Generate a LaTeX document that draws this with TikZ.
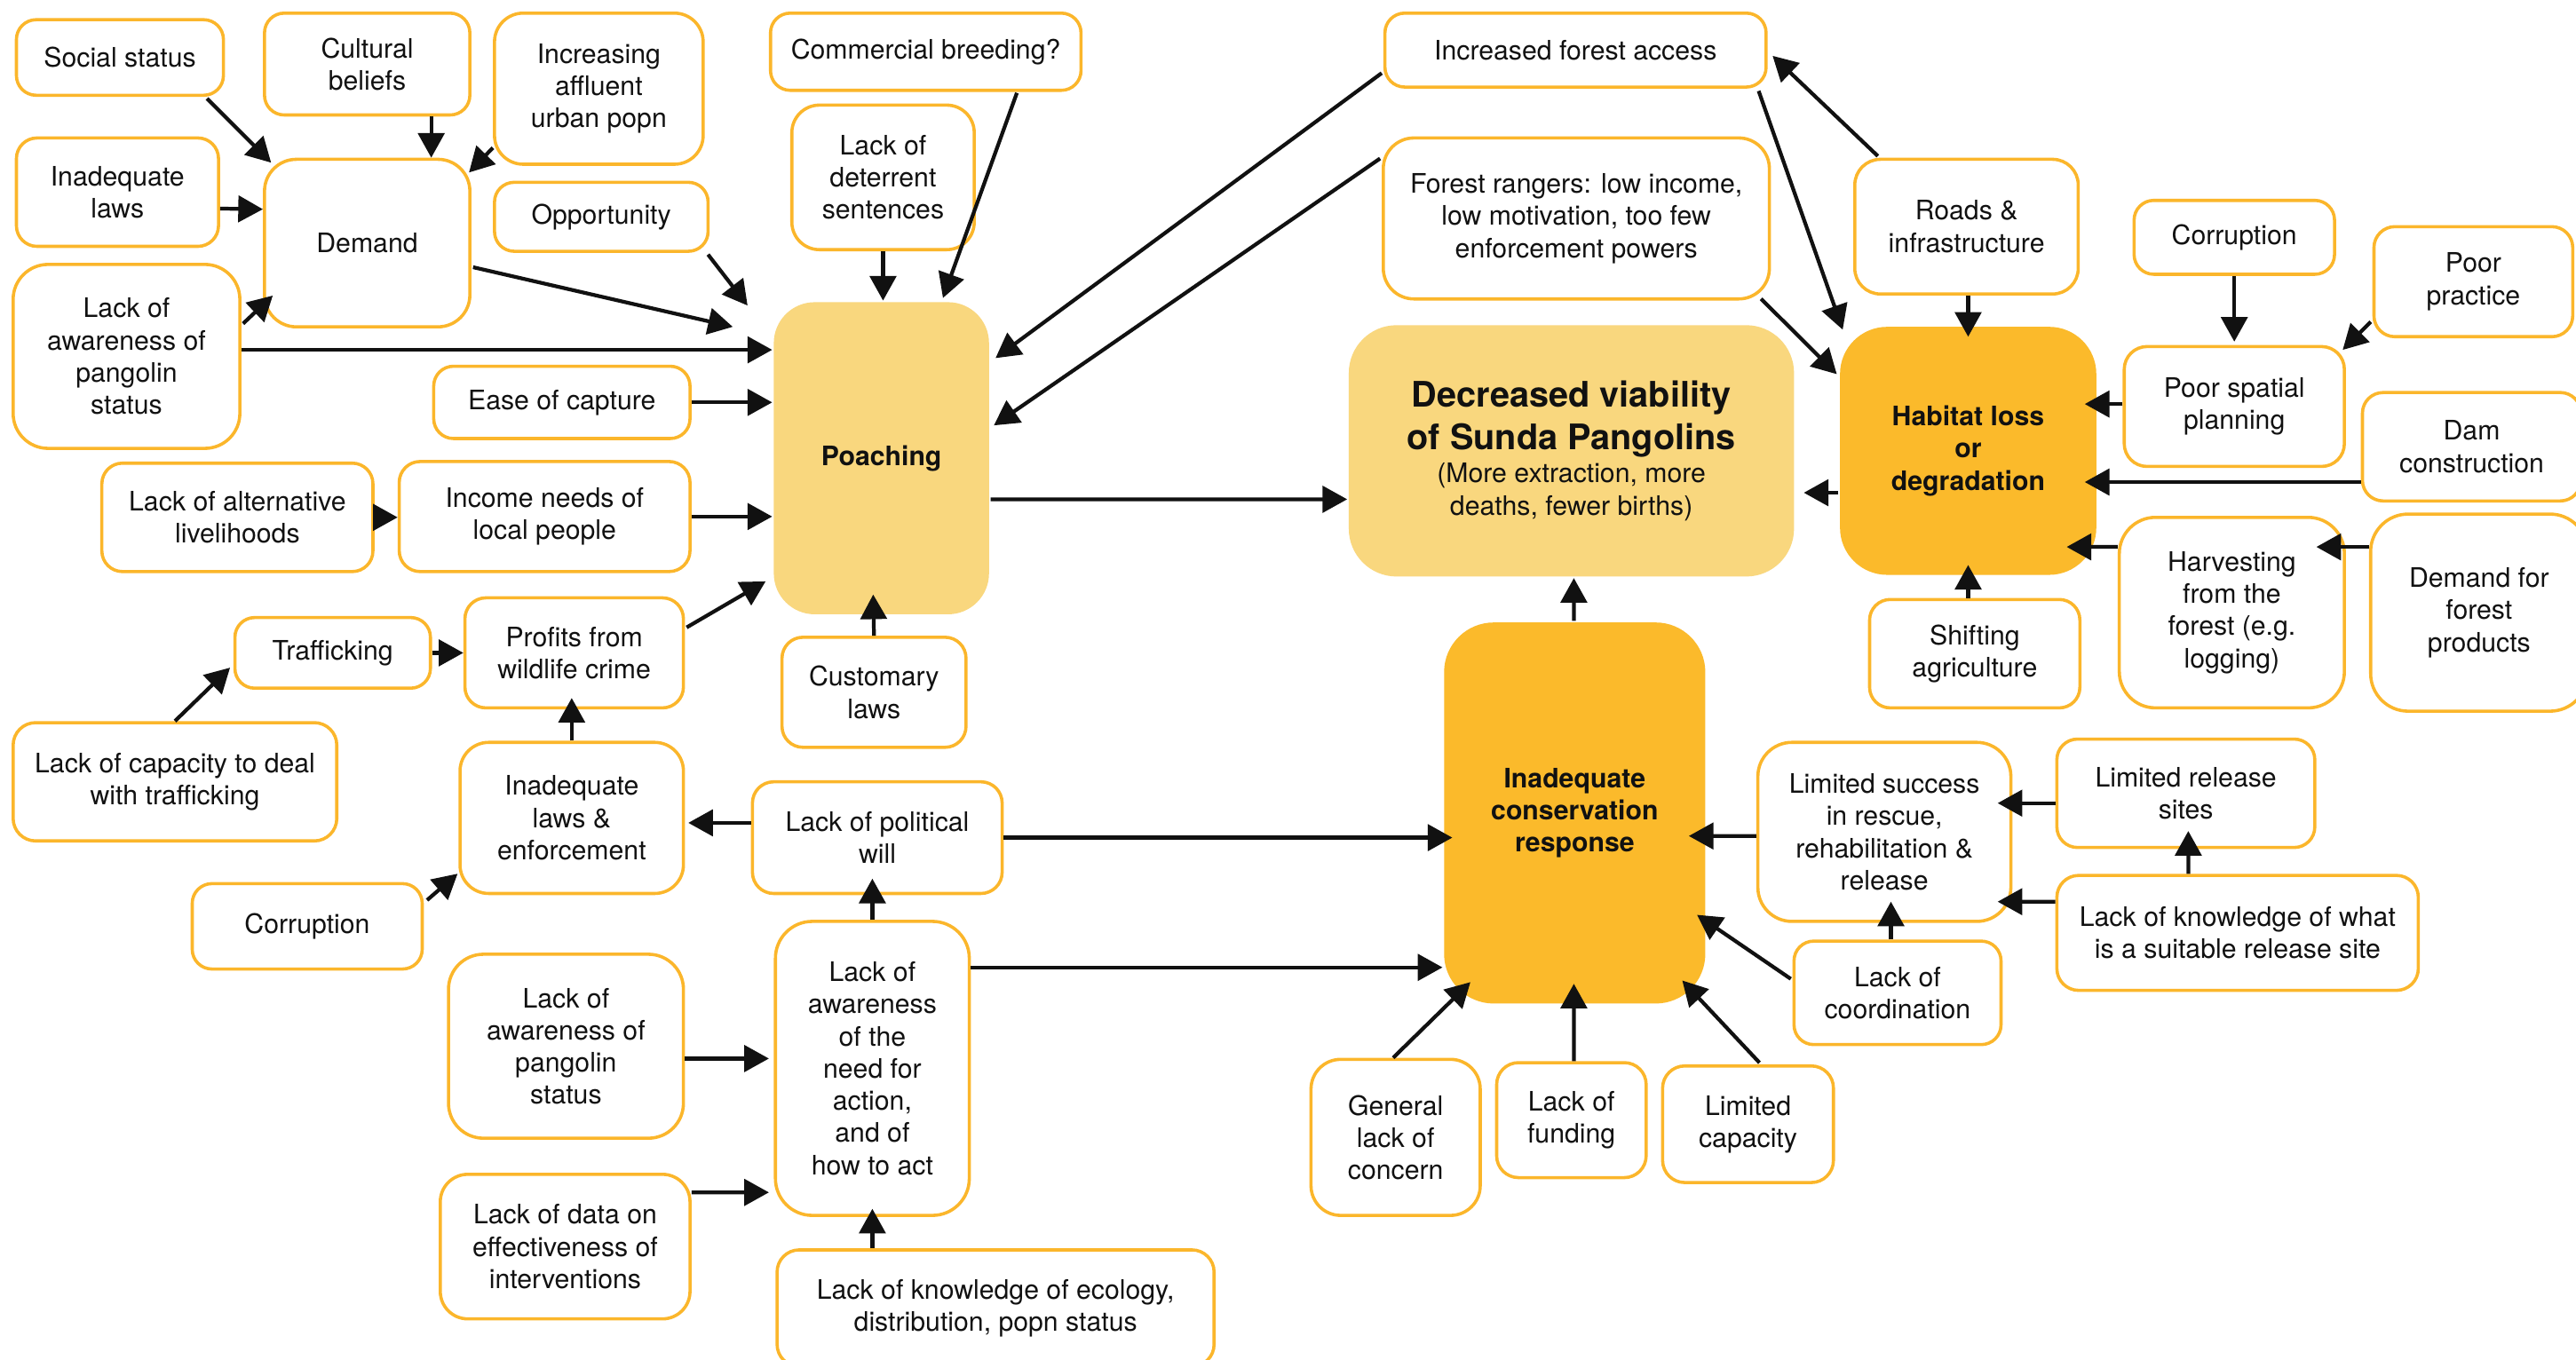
\documentclass[tikz,border=0pt]{standalone}
\usepackage{fontspec}
\setmainfont{TeX Gyre Heros}
\usetikzlibrary{arrows.meta,calc}
\definecolor{bord}{HTML}{FBB62B}
\definecolor{darkY}{HTML}{FBBA2B}
\definecolor{lightY}{HTML}{F9D77E}
\definecolor{ink}{HTML}{111111}
\newcommand\ndbox[7][]{%
 \pgfmathsetmacro\ndW{(#5-#3)*0.02}%
 \pgfmathsetmacro\ndH{(#6-#4)*0.02}%
 \pgfmathsetmacro\ndR{max(0.24,0.19*min(\ndW,\ndH))}%
 \node[box,minimum width=\ndW cm,minimum height=\ndH cm,rounded corners=\ndR cm,#1] (#2) at ({(#3+#5)/2},{(#4+#6)/2}) {#7};}
\begin{document}
\begin{tikzpicture}[x=0.02cm,y=-0.02cm,
  box/.style={draw=bord,line width=1.1pt,fill=white,align=center,inner sep=0pt,
    font=\fontsize{9.3}{11.15}\selectfont,text=ink},
  big/.style={draw=none,font=\fontsize{9.3}{11.15}\selectfont\bfseries},
  arr/.style={draw=ink,line width=1.3pt,-{Triangle[length=0.3cm,width=0.32cm]}}]
\useasboundingbox[fill=white] (0,0) rectangle (1568,828);
% left cluster
\ndbox{soc}{10}{12}{136}{58}{Social status}
\ndbox{cul}{161}{8}{286}{70}{Cultural\\beliefs}
\ndbox{inc}{301}{8}{428}{100}{Increasing\\affluent\\urban popn}
\ndbox{ilaw}{10}{84}{133}{150}{Inadequate\\laws}
\ndbox{dem}{161}{97}{286}{199}{Demand}
\ndbox{opp}{301}{111}{431}{153}{Opportunity}
\ndbox{awa}{8}{161}{146}{273}{Lack of\\awareness of\\pangolin\\status}
\ndbox{ease}{264}{223}{420}{267}{Ease of capture}
\ndbox{com}{469}{8}{658}{55}{Commercial breeding?}
\ndbox{det}{482}{64}{593}{152}{Lack of\\deterrent\\sentences}
\ndbox[big,fill=lightY]{poach}{471}{184}{602}{374}{Poaching}
\ndbox{alt}{62}{282}{227}{348}{Lack of alternative\\livelihoods}
\ndbox{inc2}{243}{281}{420}{348}{Income needs of\\local people}
\ndbox{traf}{143}{376}{262}{419}{Trafficking}
\ndbox{prof}{283}{364}{416}{431}{Profits from\\wildlife crime}
\ndbox{cust}{476}{388}{588}{455}{Customary\\laws}
\ndbox{cap}{8}{440}{205}{512}{Lack of capacity to deal\\with trafficking}
\ndbox{lenf}{280}{452}{416}{544}{Inadequate\\laws \&\\enforcement}
\ndbox{will}{458}{476}{610}{544}{Lack of political\\will}
\ndbox{corrL}{117}{538}{257}{590}{Corruption}
\ndbox{need}{472}{561}{590}{740}{Lack of\\awareness\\of the\\need for\\action,\\and of\\how to act}
\ndbox{aw2}{273}{581}{416}{693}{Lack of\\awareness of\\pangolin\\status}
\ndbox{data}{268}{715}{420}{803}{Lack of data on\\effectiveness of\\interventions}
\ndbox{eco}{473}{761}{739}{832}{Lack of knowledge of ecology,\\distribution, popn status}
% right cluster
\ndbox{acc}{843}{8}{1075}{53}{Increased forest access}
\ndbox{rang}{842}{84}{1077}{182}{Forest rangers: low income,\\low motivation, too few\\enforcement powers}
\ndbox[draw=none,fill=lightY]{viab}{821}{198}{1092}{351}{{\fontsize{12.2}{14.8}\selectfont\bfseries Decreased viability}\\[2pt]{\fontsize{12.2}{14.8}\selectfont\bfseries of Sunda Pangolins}\\[0.3pt](More extraction, more\\deaths, fewer births)}
\ndbox[big,fill=darkY]{hab}{1120}{199}{1276}{350}{Habitat loss\\or\\degradation}
\ndbox{road}{1129}{97}{1265}{179}{Roads \&\\infrastructure}
\ndbox{corrR}{1299}{122}{1421}{167}{Corruption}
\ndbox{prac}{1445}{138}{1566}{205}{Poor\\practice}
\ndbox{spat}{1293}{211}{1427}{284}{Poor spatial\\planning}
\ndbox{dam}{1438}{239}{1571}{305}{Dam\\construction}
\ndbox{harv}{1290}{315}{1427}{431}{Harvesting\\from the\\forest (e.g.\\logging)}
\ndbox{dfp}{1443}{313}{1575}{433}{Demand for\\forest\\products}
\ndbox{shift}{1138}{365}{1266}{431}{Shifting\\agriculture}
\ndbox[big,fill=darkY]{cons}{879}{379}{1038}{611}{Inadequate\\conservation\\response}
\ndbox{lsucc}{1070}{452}{1224}{561}{Limited success\\in rescue,\\rehabilitation \&\\release}
\ndbox{lrel}{1252}{450}{1409}{516}{Limited release\\sites}
\ndbox{kr}{1252}{533}{1472}{603}{Lack of knowledge of what\\is a suitable release site}
\ndbox{coord}{1092}{573}{1218}{636}{Lack of\\coordination}
\ndbox{gen}{798}{645}{901}{740}{General\\lack of\\concern}
\ndbox{fund}{911}{647}{1002}{717}{Lack of\\funding}
\ndbox{capc}{1012}{649}{1116}{720}{Limited\\capacity}
% arrows left
\draw[arr] ($(soc.south east)+(-11,1)$) -- ($(dem.north west)+(5,3)$);
\draw[arr] ($(cul.south)+(39,0)$) -- ($(dem.north)+(39,0)$);
\draw[arr] ($(inc.south west)+(0,-11)$) -- ($(dem.north east)+(-1.5,9)$);
\draw[arr] ($(ilaw.east)+(0,10)$) -- ($(dem.west)+(0,-20.6)$);
\draw[arr] ($(awa.north east)+(1,37)$) -- ($(dem.south west)+(6,-20)$);
\draw[arr] ($(awa.east)+(0,-4)$) -- ($(poach.west)+(0,-66)$);
\draw[arr] ($(dem.east)+(1,14.7)$) -- ($(poach.west)+(-24,-80)$);
\draw[arr] ($(opp.south east)+(-1,1)$) -- ($(poach.north west)+(-15,3)$);
\draw[arr] (ease.east) -- ($(poach.west)+(0,-34)$);
\draw[arr] ($(com.south east)+(-40,0.6)$) -- ($(poach.north east)+(-29,-1.6)$);
\draw[arr] (det.south) -- (det.south |- poach.north);
\draw[arr] (alt.east) -- (alt.east -| inc2.west);
\draw[arr] (inc2.east) -- (inc2.east -| poach.west);
\draw[arr] (traf.east) -- (traf.east -| prof.west);
\draw[arr] ($(prof.east)+(1,-15.5)$) -- ($(poach.south west)+(-4,-21)$);
\draw[arr] (cap.north) -- ($(traf.west)+(-2,9)$);
\draw[arr] (cust.north) -- ($(poach.south)+(-5,-13)$);
\draw[arr] (lenf.north) -- ($(prof.south)+(-1.5,-7)$);
\draw[arr] ($(corrL.north east)+(2,11)$) -- ($(lenf.south west)+(-0.5,-13)$);
\draw[arr] ($(will.west)+(0,-9)$) -- ($(lenf.east)+(2,3)$);
\draw[arr] (will.east) -- ($(cons.west)+(6,15)$);
\draw[arr] (need.north) -- ($(will.south)+(-3,-10)$);
\draw[arr] ($(need.east)+(0,-61.5)$) -- ($(cons.west)+(0,94)$);
\draw[arr] ($(aw2.east)+(0,7.5)$) -- ($(need.west)+(-3,-6)$);
\draw[arr] ($(data.east)+(0,-33)$) -- ($(need.west)+(-3,75.5)$);
\draw[arr] ($(eco.north)+(-75,0)$) -- ($(need.south)+(0,-5)$);
% arrows right
\draw[arr] ($(acc.west)+(-1,14)$) -- ($(poach.north east)+(3,35)$);
\draw[arr] ($(rang.west)+(-1,-36.5)$) -- ($(poach.east)+(2,-20)$);
\draw[arr] ($(poach.east)+(0,25)$) -- ($(viab.west)+(0,29.5)$);
\draw[arr] ($(acc.south east)+(-5.5,1.4)$) -- ($(hab.north west)+(2.6,2.7)$);
\draw[arr] ($(rang.south east)+(-6,-1)$) -- ($(hab.west)+(-1,-46.7)$);
\draw[arr] ($(road.north west)+(15,-1)$) -- ($(acc.east)+(3,3.5)$);
\draw[arr] ($(road.south)+(1,0)$) -- ($(hab.north)+(0,7)$);
\draw[arr] (corrR.south) -- ($(spat.north)+(0,-2)$);
\draw[arr] ($(prac.south west)+(-1,-10)$) -- ($(spat.north east)+(-2,3)$);
\draw[arr] ($(spat.west)+(0,-1.5)$) -- ($(hab.east)+(-8,-28.5)$);
\draw[arr] ($(dam.west)+(0,21.5)$) -- ($(hab.east)+(-8,19)$);
\draw[arr] ($(harv.west)+(0,-40)$) -- ($(hab.east)+(-19,58.5)$);
\draw[arr] ($(dfp.west)+(0,-40)$) -- ($(harv.east)+(-18,-40)$);
\draw[arr] ($(shift.north)+(-4,0)$) -- ($(hab.south)+(0,-7)$);
\draw[arr] ($(hab.west)+(0,25.5)$) -- ($(viab.east)+(5,25.5)$);
\draw[arr] ($(cons.north)+(-0.5,0)$) -- ($(viab.south)+(1.5,0)$);
\draw[arr] ($(lsucc.west)+(0,2.5)$) -- ($(cons.east)+(-11,14)$);
\draw[arr] ($(lrel.west)+(0,6)$) -- ($(lsucc.east)+(-9,-17.5)$);
\draw[arr] ($(kr.north)+(-30,0)$) -- ($(lrel.south)+(1.5,-11)$);
\draw[arr] ($(kr.west)+(0,-19)$) -- ($(lsucc.east)+(-9,42.5)$);
\draw[arr] ($(coord.north)+(-4,0)$) -- ($(lsucc.south)+(4,-13)$);
\draw[arr] ($(coord.west)+(-1,-8.5)$) -- ($(cons.east)+(-6,62)$);
\draw[arr] ($(gen.north)+(-1.5,0)$) -- ($(cons.south west)+(17,-14)$);
\draw[arr] ($(fund.north)+(1.5,0)$) -- ($(cons.south)+(-0.5,-13)$);
\draw[arr] ($(capc.north)+(7,-1)$) -- ($(cons.south east)+(-15,-15)$);
\end{tikzpicture}
\end{document}
